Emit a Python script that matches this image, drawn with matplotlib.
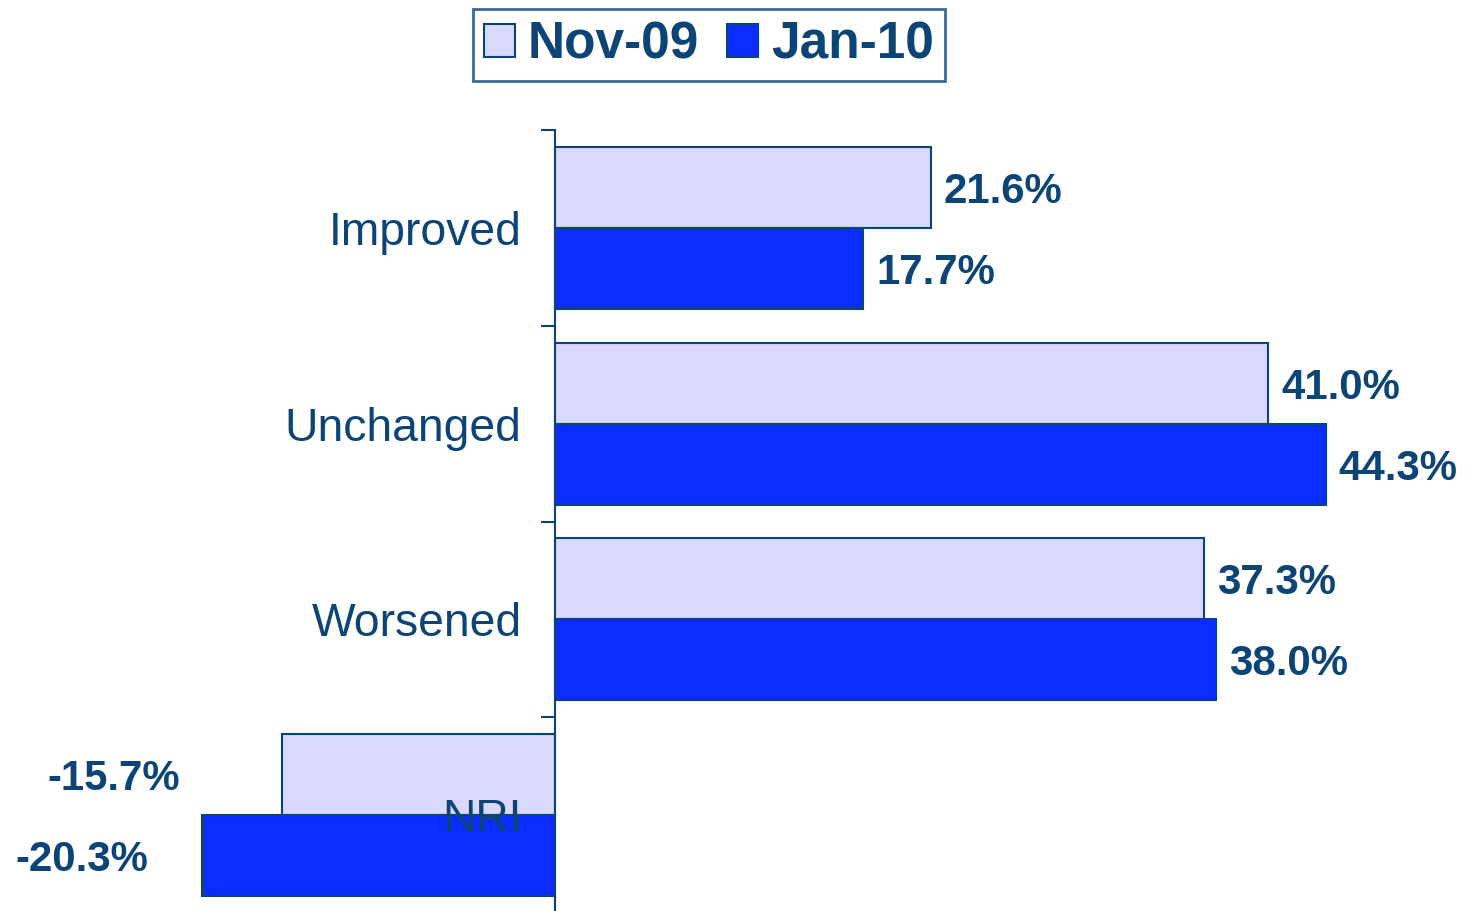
import matplotlib
matplotlib.use("Agg")
import matplotlib.pyplot as plt
from matplotlib import font_manager
import numpy as np

categories = ["Improved", "Unchanged", "Worsened", "NRI"]
series_names = ["Nov-09", "Jan-10"]
nov09 = [21.6, 41.0, 37.3, -15.7]
jan10 = [17.7, 44.3, 38.0, -20.3]

NAVY = "#0C4476"
LIGHT = "#D8D9FB"
BLUE = "#0D2DFF"

plt.rcParams["font.family"] = ["Liberation Sans", "DejaVu Sans"]

names = {f.name for f in font_manager.fontManager.ttflist}
if "Liberation Sans Narrow" in names:
    label_family = ["Liberation Sans Narrow", "Liberation Sans"]
else:
    label_family = ["Liberation Sans", "DejaVu Sans"]
label_size = 30

fig = plt.figure(figsize=(14.68, 9.11), dpi=100)
ax = fig.add_axes([120/1468, -2/911, 1218/1468, 783/911])

y = np.arange(len(categories))
h = 0.414
b1 = ax.barh(y - h/2, nov09, height=h, color=LIGHT, edgecolor=NAVY, linewidth=1.5, label=series_names[0], zorder=1)
b2 = ax.barh(y + h/2, jan10, height=h, color=BLUE, edgecolor=NAVY, linewidth=1.5, label=series_names[1], zorder=1)

ax.set_xlim(-25, 45)
ax.set_ylim(len(categories) - 0.5, -0.5)

for s in ["top", "right", "bottom"]:
    ax.spines[s].set_visible(False)
ax.spines["left"].set_position(("data", 0))
ax.spines["left"].set_color(NAVY)
ax.spines["left"].set_linewidth(1.5)
ax.set_xticks([])

ax.set_yticks(y)
ax.set_yticklabels(categories, fontsize=33.3, color=NAVY)
ax.tick_params(axis="y", which="major", length=0, pad=24)
ax.set_yticks(np.arange(len(categories)) - 0.5, minor=True)
ax.tick_params(axis="y", which="minor", length=10, width=1.5, color=NAVY, direction="out")

# data labels
neg_off = {0: 102, 1: 54}
labels = []
for si, (bars, vals) in enumerate([(b1, nov09), (b2, jan10)]):
    for i, v in enumerate(vals):
        yy = y[i] + (-h/2 if si == 0 else h/2)
        if v >= 0:
            t = ax.annotate(f"{v:.1f}%", (v, yy), xytext=(13, 0), textcoords="offset pixels",
                            ha="left", va="center_baseline", fontsize=label_size, fontweight="bold",
                            color=NAVY, family=label_family)
        else:
            t = ax.annotate(f"{v:.1f}%", (v, yy), xytext=(-neg_off[si], 0), textcoords="offset pixels",
                            ha="right", va="center_baseline", fontsize=label_size, fontweight="bold",
                            color=NAVY, family=label_family)
        labels.append(t)

# fit label size so "21.6%" is about 119 px wide, as in the reference
fig.canvas.draw()
r = fig.canvas.get_renderer()
w = labels[0].get_window_extent(r).width
scale = 119.0 / w
for t in labels:
    t.set_fontsize(label_size * scale)

leg = fig.legend(loc="center", bbox_to_anchor=(709/1468, 1 - 45/911), ncol=2,
                 prop={"size": 37, "weight": "bold"}, handlelength=0.6, handleheight=0.6,
                 handletextpad=0.25, columnspacing=0.55, borderpad=0.22, fancybox=False,
                 frameon=True, borderaxespad=0)
leg.get_frame().set_edgecolor(NAVY)
leg.get_frame().set_linewidth(2)
for t in leg.get_texts():
    t.set_color(NAVY)

fig.savefig("out.png", dpi=100)
